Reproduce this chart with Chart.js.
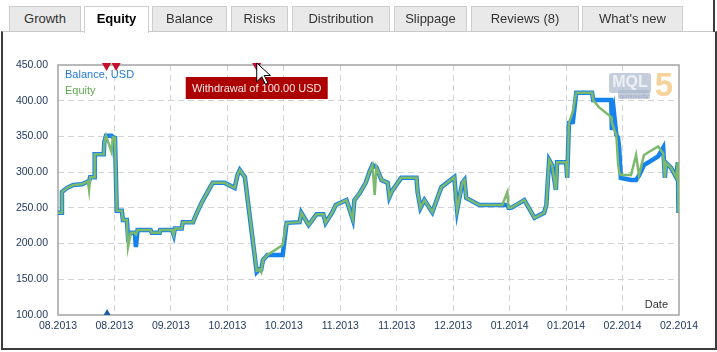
<!DOCTYPE html>
<html lang="en">
<head>
  <meta charset="UTF-8" />
  <title>Equity | MQL5</title>
  <script src="https://cdn.jsdelivr.net/npm/chart.js"></script>
  <style>
    body { margin:0; width:717px; height:352px; overflow:hidden; background:#fff; font-family:"Liberation Sans", Arial, sans-serif; }
    #grafica { position:absolute; left:0; top:0; }
    .panel { position:absolute; left:1px; top:31px; width:712px; height:316px; border:2px solid #3c3c3c; border-top:1px solid #c9c9c9; pointer-events:none; }
    .bordeDer { position:absolute; left:713px; top:0; width:2px; height:32px; background:#3c3c3c; }
    .tab { position:absolute; top:6px; height:24px; background:#e9e9e9; border:1px solid #cdcdcd; border-bottom:none;
           font-size:13px; color:#333; text-align:center; line-height:24px; }
    .tab.activa { background:#fff; height:26px; font-weight:bold; color:#000; z-index:2; }
  </style>
</head>
<body>
  <canvas id="grafica" width="717" height="352"></canvas>
  <div class="panel"></div>
  <div class="bordeDer"></div>
  <div class="tab" style="left:9px;width:70px;">Growth</div>
  <div class="tab activa" style="left:84px;width:63px;">Equity</div>
  <div class="tab" style="left:152px;width:73px;">Balance</div>
  <div class="tab" style="left:231px;width:55px;">Risks</div>
  <div class="tab" style="left:292px;width:96px;">Distribution</div>
  <div class="tab" style="left:394px;width:71px;">Slippage</div>
  <div class="tab" style="left:471px;width:106px;">Reviews (8)</div>
  <div class="tab" style="left:582px;width:99px;">What's new</div>

  <script>
    // eje X: posicion en periodos de etiqueta (0 = primera etiqueta, 11 = ultima)
    const etiquetasFecha = ["08.2013","08.2013","09.2013","10.2013","10.2013","11.2013","11.2013","12.2013","01.2014","01.2014","02.2014","02.2014"];

    const tiempo = [0.00,0.06,0.07,0.16,0.27,0.42,0.53,0.55,0.57,0.64,0.65,0.81,0.82,0.85,0.95,0.97,1.01,1.04,1.13,1.15,
      1.22,1.24,1.29,1.36,1.38,1.41,1.64,1.66,1.80,1.81,2.02,2.05,2.07,2.19,2.21,2.39,2.46,2.55,2.74,2.95,
      3.13,3.18,3.22,3.31,3.52,3.57,3.60,3.63,3.71,3.98,4.05,4.28,4.31,4.44,4.58,4.70,4.74,4.86,4.92,5.11,
      5.22,5.25,5.34,5.45,5.52,5.57,5.61,5.64,5.73,5.84,5.87,5.92,6.08,6.35,6.37,6.42,6.49,6.63,6.79,7.02,
      7.07,7.16,7.20,7.23,7.46,7.87,7.96,7.98,8.03,8.26,8.44,8.61,8.65,8.70,8.75,8.82,8.84,9.00,9.02,9.05,
      9.12,9.18,9.46,9.48,9.58,9.80,9.81,9.85,9.89,9.92,9.94,9.97,10.15,10.24,10.29,10.38,10.63,10.72,10.75,10.77,
      10.86,10.95,10.98,10.99];

    const balance = [243,243,272,278,282,283,287,287,293,293,325,325,342,351,351,349,348,246,246,233,
      233,210,215,215,195,219,219,215,215,219,219,212,221,221,230,230,243,258,285,285,
      278,296,303,293,160,164,164,177,184,184,229,230,243,226,241,241,229,244,254,261,
      234,261,270,285,301,310,308,307,289,285,265,274,292,292,272,250,261,244,279,293,
      247,285,289,264,254,254,254,250,250,261,236,243,254,317,310,275,314,314,292,369,
      370,411,411,401,401,401,359,382,352,348,334,292,289,289,295,310,322,334,292,313,
      306,293,314,243];

    const equity = [243,243,272,278,282,283,287,275,293,293,325,325,342,351,328,349,348,246,246,233,
      233,195,215,215,213,219,219,215,215,219,219,212,221,221,230,230,243,258,285,285,
      278,296,303,293,162,164,160,177,184,198,229,230,243,226,241,241,229,244,254,261,
      234,261,270,285,301,310,268,307,289,285,265,274,292,292,272,250,261,244,279,293,
      247,285,289,264,254,254,272,250,250,261,236,243,254,317,310,275,314,314,292,369,
      385,411,411,401,391,377,370,360,352,313,300,296,296,324,296,324,336,326,292,313,
      306,293,314,243];

    const retiros = [0.86, 1.03, 3.52];
    const depositos = [0.87];
    const textoRetiro = "Withdrawal of 100.00 USD";

    const ejeY = { min: 100, max: 450, paso: 50 };

    const puntos = (serie) => tiempo.map((t, i) => ({ x: t, y: serie[i] }));

    const fuente = '"Liberation Sans", Arial, sans-serif';
    const rejilla = '#d3d3d3';

    const adornos = {
      id: 'adornos',
      beforeDatasetsDraw(chart) {
        const { ctx, chartArea: a } = chart;
        ctx.save();
        ctx.strokeStyle = '#a3a3a3';
        ctx.lineWidth = 1.5;
        ctx.strokeRect(a.left, a.top, a.right - a.left, a.bottom - a.top);

        // logo MQL5
        ctx.globalAlpha = 0.7;
        ctx.fillStyle = '#a9b8cc';
        ctx.beginPath();
        ctx.roundRect(609, 73, 42, 20, 3);
        ctx.fill();
        ctx.beginPath();
        ctx.roundRect(618, 90, 32, 9, 2);
        ctx.fill();
        ctx.fillStyle = '#fff';
        ctx.font = 'bold 16px ' + fuente;
        ctx.textAlign = 'center';
        ctx.textBaseline = 'middle';
        ctx.fillText('MQL', 630, 83);
        ctx.font = '6px ' + fuente;
        ctx.fillStyle = '#8595ad';
        ctx.fillText('community', 634, 96);
        ctx.fillStyle = '#f4c170';
        ctx.font = 'bold 33px ' + fuente;
        ctx.fillText('5', 664, 87);
        ctx.restore();

        // leyenda
        ctx.save();
        ctx.font = '11px ' + fuente;
        ctx.textBaseline = 'middle';
        ctx.fillStyle = '#1f78d8';
        ctx.fillText('Balance, USD', a.left + 7, 75);
        ctx.fillStyle = '#62a852';
        ctx.fillText('Equity', a.left + 7, 91);
        ctx.fillStyle = '#333';
        ctx.textAlign = 'right';
        ctx.fillText('Date', a.right - 11, a.bottom - 10);
        ctx.restore();
      },
      afterDraw(chart) {
        const { ctx } = chart;
        const x = chart.scales.x.getPixelForValue(retiros[2]);
        ctx.save();
        ctx.fillStyle = '#ad0000';
        ctx.fillRect(x - 71, 77, 142, 22);
        ctx.fillStyle = '#fbe9e9';
        ctx.font = '11px ' + fuente;
        ctx.textAlign = 'center';
        ctx.textBaseline = 'middle';
        ctx.fillText(textoRetiro, x, 88.5);

        // cursor
        const cx = x, cy = 63, k = 1.25;
        ctx.beginPath();
        ctx.moveTo(cx, cy);
        [[0,15],[4,11],[7,17],[9,16],[6,10],[11,10]].forEach(([dx, dy]) => ctx.lineTo(cx + dx * k, cy + dy * k));
        ctx.closePath();
        ctx.fillStyle = '#fff';
        ctx.fill();
        ctx.strokeStyle = '#000';
        ctx.lineWidth = 1;
        ctx.stroke();
        ctx.restore();
      }
    };

    new Chart(document.getElementById('grafica'), {
      type: 'line',
      data: {
        datasets: [
          { label: 'Retiros', type: 'scatter', data: retiros.map(t => ({ x: t, y: ejeY.max })),
            pointStyle: 'triangle', rotation: 180, pointRadius: 6, backgroundColor: '#c8102e', borderWidth: 0,
            clip: { left: 10, right: 10, top: 2, bottom: 0 } },
          { label: 'Depositos', type: 'scatter', data: depositos.map(t => ({ x: t, y: ejeY.min })),
            pointStyle: 'triangle', pointRadius: 6, backgroundColor: '#1a5fa8', borderWidth: 0,
            clip: { left: 10, right: 10, top: 0, bottom: 0 } },
          { label: 'Equity', data: puntos(equity), borderColor: '#7cb96a', borderWidth: 2.5, pointRadius: 0, tension: 0 },
          { label: 'Balance, USD', data: puntos(balance), borderColor: '#1682ee', borderWidth: 4.5, pointRadius: 0, tension: 0 }
        ]
      },
      options: {
        responsive: false,
        animation: false,
        layout: { padding: { left: 0, right: 38, top: 65, bottom: 7 } },
        plugins: { legend: { display: false }, tooltip: { enabled: false } },
        scales: {
          x: {
            type: 'linear', min: 0, max: etiquetasFecha.length - 1,
            afterFit: (s) => { s.height = 30; },
            grid: { drawTicks: false, color: (c) => (c.index === 0 || c.index === etiquetasFecha.length - 1) ? 'rgba(0,0,0,0)' : rejilla },
            border: { display: false, dash: [6, 4] },
            ticks: { stepSize: 1, autoSkip: false, maxRotation: 0, padding: 5, color: '#223a5e',
                     font: { family: fuente, size: 10.5 }, callback: (v) => etiquetasFecha[v] }
          },
          y: {
            min: ejeY.min, max: ejeY.max,
            afterFit: (s) => { s.width = 58; },
            grid: { drawTicks: false, color: (c) => (c.tick.value === ejeY.min || c.tick.value === ejeY.max) ? 'rgba(0,0,0,0)' : rejilla },
            border: { display: false, dash: [6, 4] },
            ticks: { stepSize: ejeY.paso, padding: 10, color: '#223a5e',
                     font: { family: fuente, size: 10.5 }, callback: (v) => v.toFixed(2) }
          }
        }
      },
      plugins: [adornos]
    });
  </script>
</body>
</html>
